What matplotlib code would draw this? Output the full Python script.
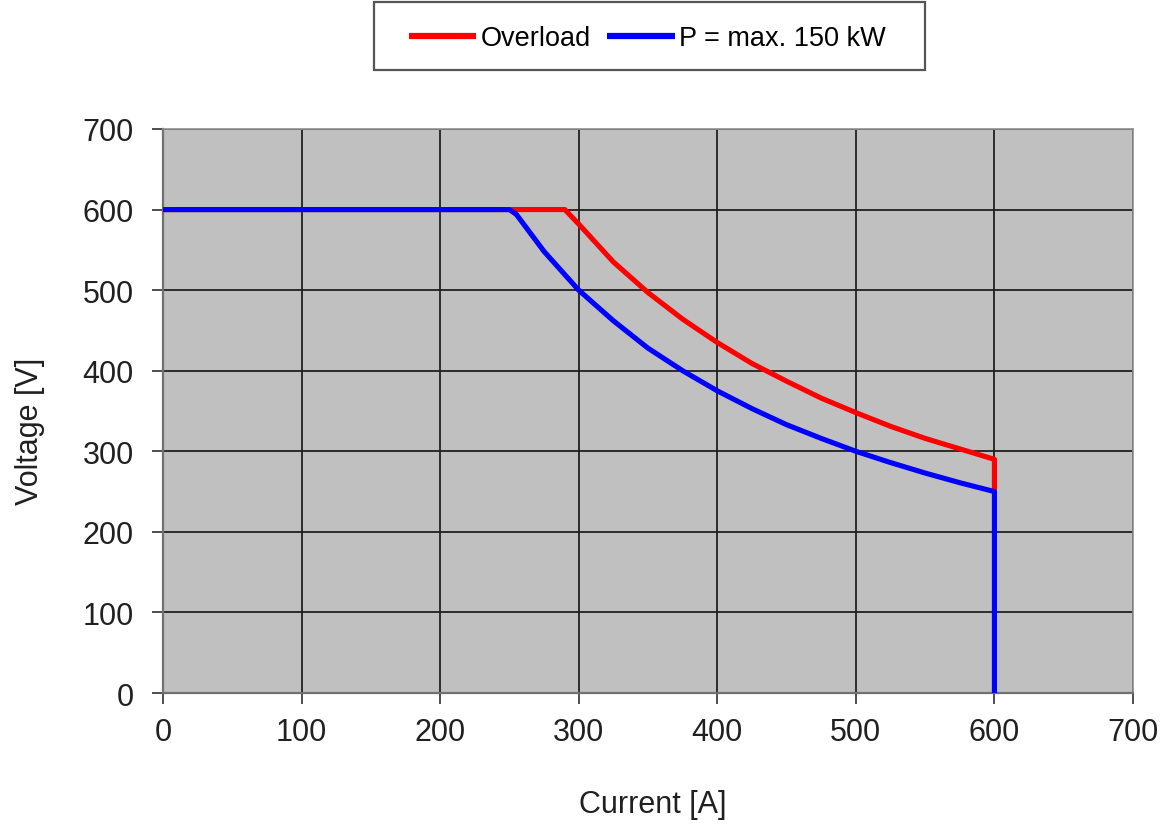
import matplotlib
matplotlib.use("Agg")
import matplotlib.pyplot as plt
from matplotlib.patches import Rectangle

# Data
overload_current = [0, 290, 300, 325, 350, 375, 400, 425, 450, 475, 500, 525, 550, 575, 600, 600]
overload_voltage = [600, 600, 582, 535, 497, 464, 435, 409, 387, 366, 348, 331, 316, 303, 290, 250]

p150_current = [0, 250, 255, 275, 300, 325, 350, 375, 400, 425, 450, 475, 500, 525, 550, 575, 600, 600]
p150_voltage = [600, 600, 594, 548, 500, 462, 428, 400, 375, 353, 333, 316, 300, 286, 273, 261, 250, 0]

series_labels = ["Overload", "P = max. 150 kW"]
x_ticks = [0, 100, 200, 300, 400, 500, 600, 700]
y_ticks = [0, 100, 200, 300, 400, 500, 600, 700]

plt.rcParams['font.family'] = ['Liberation Sans', 'DejaVu Sans']

W, H = 1165, 829
fig = plt.figure(figsize=(W / 100, H / 100), dpi=100)
ax = fig.add_axes([163 / W, 1 - 694 / H, (1133 - 163) / W, (694 - 130) / H])
ax.set_facecolor('#c0c0c0')

l1, = ax.plot(overload_current, overload_voltage, color='#ff0000', lw=3.7,
              solid_joinstyle='round', solid_capstyle='butt', zorder=3)
l2, = ax.plot(p150_current, p150_voltage, color='#0000ff', lw=3.7,
              solid_joinstyle='round', solid_capstyle='butt', zorder=4)

ax.set_xlim(0, 700)
ax.set_ylim(0, 700)
ax.set_xticks(x_ticks)
ax.set_yticks(y_ticks)
ax.grid(True, color='#202020', lw=1.3, zorder=1)
ax.set_axisbelow(True)
for s in ['top', 'right']:
    ax.spines[s].set_color('#909090')
    ax.spines[s].set_linewidth(1.2)
for s in ['left', 'bottom']:
    ax.spines[s].set_color('#707070')
    ax.spines[s].set_linewidth(1.6)
ax.tick_params(axis='both', labelsize=22, length=8, width=1.3, color='#404040',
               labelcolor='#202020')
ax.tick_params(axis='y', pad=13)
ax.tick_params(axis='x', pad=9)

ax.set_xlabel('Current [A]', fontsize=22, color='#202020', va='center')
ax.xaxis.set_label_coords((653 - 163) / 970, (694 - 805) / 564)
ax.set_ylabel('Voltage [V]', fontsize=22, color='#202020', va='center')
ax.yaxis.set_label_coords((30 - 163) / 970, (694 - 431) / 564)

# legend box
fig.add_artist(Rectangle((374 / W, 1 - 71 / H), 551 / W, 68 / H,
                         transform=fig.transFigure, facecolor='white',
                         edgecolor='#555555', lw=1.6, zorder=5))
leg = fig.legend([l1, l2], series_labels, loc='center left',
                 bbox_to_anchor=(395 / W, 1 - 39 / H),
                 ncol=2, fontsize=19.5, frameon=False, borderpad=0,
                 handlelength=2.5, handletextpad=0.15, columnspacing=0.6)
leg.set_zorder(6)
for h in leg.legend_handles:
    h.set_linewidth(4.5)

fig.savefig('out.png', dpi=100)
